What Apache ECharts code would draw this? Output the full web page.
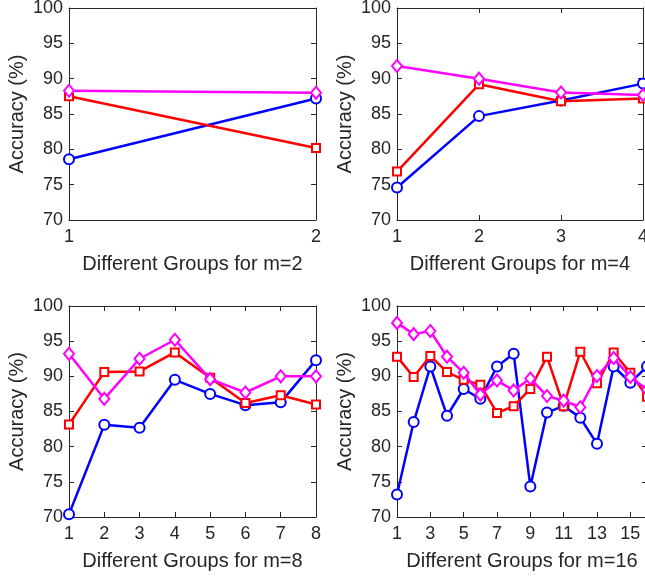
<!DOCTYPE html>
<html>
<head>
<meta charset="utf-8">
<script src="https://cdn.jsdelivr.net/npm/echarts@6/dist/echarts.min.js"></script>
<style>
html,body{margin:0;padding:0;background:#fff;}
#chart{width:645px;height:577px;}
</style>
</head>
<body>
<div id="chart"></div>
<script>
// ---- data ----
const groupsM2 = [1, 2];
const groupsM4 = [1, 2, 3, 4];
const groupsM8 = [1, 2, 3, 4, 5, 6, 7, 8];
const groupsM16 = [1, 2, 3, 4, 5, 6, 7, 8, 9, 10, 11, 12, 13, 14, 15, 16];

const blueM2 = [78.6, 87.2];
const redM2 = [87.5, 80.2];
const magentaM2 = [88.3, 88.0];

const blueM4 = [74.6, 84.7, 86.9, 89.3];
const redM4 = [76.85, 89.2, 86.8, 87.2];
const magentaM4 = [91.8, 90.0, 88.05, 87.7];

const blueM8 = [70.4, 83.1, 82.7, 89.5, 87.5, 85.9, 86.3, 92.3];
const redM8 = [83.15, 90.6, 90.7, 93.4, 89.8, 86.2, 87.3, 86.0];
const magentaM8 = [93.2, 86.8, 92.5, 95.2, 89.6, 87.7, 90.0, 90.0];

const blueM16 = [73.2, 83.5, 91.4, 84.4, 88.2, 86.8, 91.4, 93.2, 74.35, 84.85, 85.8, 84.1, 80.4, 91.4, 89.1, 91.4];
const redM16 = [92.8, 89.9, 92.9, 90.6, 89.5, 88.8, 84.8, 85.75, 88.2, 92.8, 85.75, 93.5, 89.0, 93.4, 90.5, 87.1];
const magentaM16 = [97.6, 96.0, 96.45, 92.8, 90.5, 87.4, 89.4, 88.0, 89.7, 87.2, 86.55, 85.6, 90.05, 92.6, 89.9, 88.1];

const xTitles = ['Different Groups for m=2', 'Different Groups for m=4', 'Different Groups for m=8', 'Different Groups for m=16'];
const yTitle = 'Accuracy (%)';
const yMin = 70, yMax = 100, yStep = 5;

// ---- layout / style ----
const FONT = '"Liberation Sans", Arial, Helvetica, sans-serif';
const INK = '#262626';
const panels = [
  {groups: groupsM2, series: [blueM2, redM2, magentaM2], grid: {left: 69, right: 329, top: 8, bottom: 357}, step: 0},
  {groups: groupsM4, series: [blueM4, redM4, magentaM4], grid: {left: 397, right: 2, top: 8, bottom: 357}, step: 0},
  {groups: groupsM8, series: [blueM8, redM8, magentaM8], grid: {left: 69, right: 329, top: 306, bottom: 60}, step: 0},
  {groups: groupsM16, series: [blueM16, redM16, magentaM16], grid: {left: 397, right: -2, top: 306, bottom: 60}, step: 1}
];
const styles = [
  {color: '#0000ff', symbol: 'emptyCircle', size: 10},
  {color: '#ff0000', symbol: 'emptyRect', size: 8},
  {color: '#ff00ff', symbol: 'emptyDiamond', size: [10, 12]}
];

const grid = [], xAxis = [], yAxis = [], series = [];
panels.forEach((p, i) => {
  grid.push(Object.assign({containLabel: false, outerBoundsMode: 'none'}, p.grid));
  const cats = p.groups.map(String);
  const axLine = {show: true, lineStyle: {color: INK, width: 1}};
  const tick = {show: true, inside: true, length: 5, interval: p.step, lineStyle: {color: INK}};
  // bottom
  xAxis.push({
    gridIndex: i, type: 'category', data: cats, boundaryGap: false, position: 'bottom',
    axisLine: axLine, axisTick: tick,
    axisLabel: {interval: p.step, color: INK, fontSize: 18, fontFamily: FONT, margin: 8, hideOverlap: false},
    splitLine: {show: false},
    name: xTitles[i], nameLocation: 'middle', nameGap: 34,
    nameTextStyle: {color: INK, fontSize: 20, fontFamily: FONT}
  });
  // top (box)
  xAxis.push({
    gridIndex: i, type: 'category', data: cats, boundaryGap: false, position: 'top',
    axisLine: axLine, axisTick: tick, axisLabel: {show: false}, splitLine: {show: false}
  });
  // left
  yAxis.push({
    gridIndex: i, type: 'value', min: yMin, max: yMax, interval: yStep, position: 'left',
    axisLine: axLine, axisTick: {show: true, inside: true, length: 5, lineStyle: {color: INK}},
    axisLabel: {color: INK, fontSize: 18, fontFamily: FONT, margin: 6},
    splitLine: {show: false},
    name: yTitle, nameLocation: 'middle', nameGap: 42, nameRotate: 90,
    nameTextStyle: {color: INK, fontSize: 20, fontFamily: FONT}
  });
  // right (box)
  yAxis.push({
    gridIndex: i, type: 'value', min: yMin, max: yMax, interval: yStep, position: 'right',
    axisLine: axLine, axisTick: {show: true, inside: true, length: 5, lineStyle: {color: INK}},
    axisLabel: {show: false}, splitLine: {show: false}
  });
  p.series.forEach((vals, k) => {
    const s = styles[k];
    series.push({
      type: 'line', xAxisIndex: 2 * i, yAxisIndex: 2 * i, data: vals,
      symbol: s.symbol, symbolSize: s.size, showAllSymbol: true,
      lineStyle: {color: s.color, width: 2.5},
      itemStyle: {color: s.color, borderColor: s.color, borderWidth: 2},
      animation: false, silent: true, z: 2 + k
    });
  });
});

const chart = echarts.init(document.getElementById('chart'), null, {renderer: 'canvas'});
chart.setOption({backgroundColor: '#ffffff', animation: false, grid, xAxis, yAxis, series});
</script>
</body>
</html>
